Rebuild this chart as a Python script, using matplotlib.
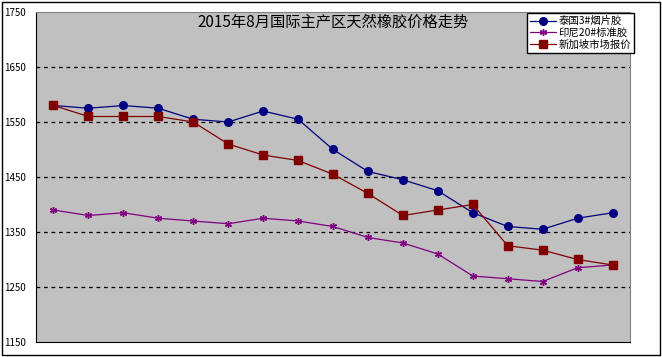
import matplotlib
matplotlib.use("Agg")
import matplotlib.pyplot as plt
from matplotlib.patches import Rectangle

plt.rcParams['font.family'] = ['Noto Sans CJK SC', 'DejaVu Sans']

# 2015年8月 每个交易日的价格
thai_rss3 = [1580, 1575, 1580, 1575, 1555, 1550, 1570, 1555, 1500, 1460,
             1445, 1425, 1385, 1360, 1355, 1375, 1385]
indo_sir20 = [1390, 1380, 1385, 1375, 1370, 1365, 1375, 1370, 1360, 1340,
              1330, 1310, 1270, 1265, 1260, 1285, 1290]
sgx_price = [1580, 1560, 1560, 1560, 1550, 1510, 1490, 1480, 1455, 1420,
             1380, 1390, 1400, 1325, 1317, 1300, 1290]
series_names = ["泰国3#烟片胶", "印尼20#标准胶", "新加坡市场报价"]
y_ticks = [1150, 1250, 1350, 1450, 1550, 1650, 1750]
title = "2015年8月国际主产区天然橡胶价格走势"

W, H = 662, 357
fig = plt.figure(figsize=(W / 100, H / 100), dpi=100)
fig.patch.set_facecolor("white")
fig.patches.append(Rectangle((2 / W, 2 / H), 1 - 4 / W, 1 - 4 / H,
                             transform=fig.transFigure, fill=False,
                             edgecolor="black", linewidth=1))

ax = fig.add_axes([36 / W, 15 / H, 594 / W, 330 / H])
ax.set_facecolor("#C0C0C0")

x = list(range(len(thai_rss3)))
ax.plot(x, thai_rss3, color="#000080", lw=0.9, marker="o", ms=5.5,
        label=series_names[0])
ax.plot(x, indo_sir20, color="#800080", lw=0.9, marker=(6, 2, 0), ms=5,
        mew=1, label=series_names[1])
ax.plot(x, sgx_price, color="#800000", lw=0.9, marker="s", ms=5.3,
        label=series_names[2])

ax.set_xlim(-0.5, len(x) - 0.5)
ax.set_ylim(1150, 1750)
ax.set_yticks(y_ticks)
ax.set_xticks([])
ax.tick_params(axis="y", length=0, labelsize=7, pad=7)
for t in y_ticks[1:-1]:
    ax.axhline(t, color="black", lw=0.9, ls=(0, (3, 3)), zorder=1)

ax.spines["left"].set_color("black")
ax.spines["bottom"].set_color("black")
ax.spines["top"].set_color("#808080")
ax.spines["right"].set_color("#808080")

ax.text(0.5, 0.995, title, transform=ax.transAxes, ha="center", va="top",
        fontsize=11)

leg = fig.legend(loc="upper left", bbox_to_anchor=(527 / W, 1 - 13 / H),
                 fontsize=7.5, fancybox=False, framealpha=1,
                 edgecolor="black", borderpad=0.3, labelspacing=0.15,
                 handlelength=2.5, handletextpad=0.2, borderaxespad=0)
leg.get_frame().set_linewidth(1)

fig.savefig("out.png", dpi=100)
